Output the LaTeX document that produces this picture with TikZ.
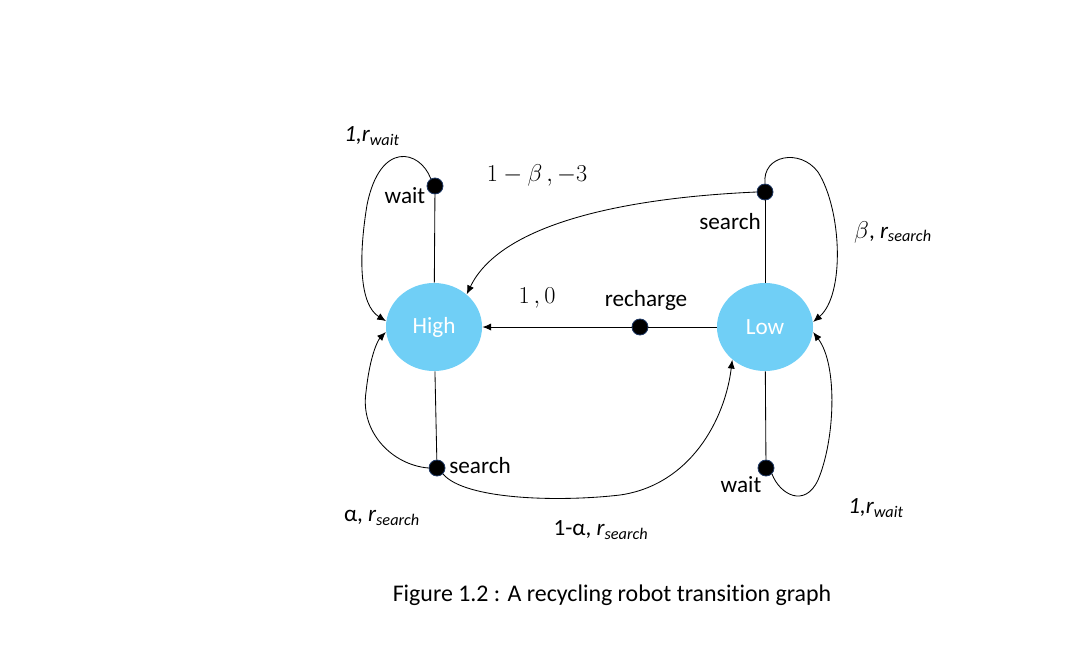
\documentclass[tikz,border=0pt]{standalone}
\usepackage{fontspec}
\setmainfont{Carlito}[Ligatures=NoCommon]
\usetikzlibrary{arrows.meta,shapes.geometric}
\definecolor{statefill}{RGB}{112,207,246}
\definecolor{dotrim}{RGB}{31,56,100}

\begin{document}
\begin{tikzpicture}[x=0.025cm, y=-0.025cm,
    font=\fontsize{16.5}{19}\selectfont, line width=0.6pt,
    state/.style ={ellipse, fill=statefill, text=white, minimum width=2.4cm, minimum height=2.2cm, inner sep=0pt},
    action/.style ={circle, fill=black, draw=dotrim, semithick, minimum size=0.4cm, inner sep=0pt},
    link/.style ={-{Latex[length=2.2mm,width=1.8mm]}}]
   \useasboundingbox (0,0) rectangle (1084,647);

   % states
   \node[state] (H) at (434,327) {High};
   \node[state] (L) at (765,327) {Low};

   % action dots
   \node[action] (w1) at (435,186) {};
   \node[action] (s1) at (765,192) {};
   \node[action] (rc) at (640,327) {};
   \node[action] (s2) at (437,468) {};
   \node[action] (w2) at (766,468) {};

   % straight edges
   \draw (H) -- (w1);
   \draw (H) -- (s2);
   \draw (L) -- (s1);
   \draw (L) -- (w2);
   \draw (L) -- (rc);
   \draw[link] (rc) -- (H);

   % curved transitions
   \draw[link] (w1.120) .. controls (420,150) and (380,140) .. (367,205)
                        .. controls (358,260) and (360,305) .. (H.173);
   \draw[link] (s1.west) .. controls (620,198) and (500,225) .. (H.45);
   \draw[link] (s1.north) .. controls (762,155) and (800,148) .. (818,172)
                          .. controls (842,210) and (845,295) .. (L.6);
   \draw[link] (s2.west) .. controls (392,465) and (360,432) .. (366,392)
                         .. controls (370,355) and (378,340) .. (H.186);
   \draw[link] (s2.south east) .. controls (465,500) and (560,502) .. (620,495)
                               .. controls (690,485) and (725,420) .. (L.225);
   \draw[link] (w2.south east) .. controls (780,495) and (805,508) .. (818,480)
                               .. controls (835,440) and (838,365) .. (L.-6);

   % labels
   \node (lw1) at (372,136) {\itshape 1,r\textsubscript{wait}};
   \node (lb1) at (537,175) {$1-\beta\,,-3$};
   \node (lb2) at (893,232) {$\beta$, \itshape r\textsubscript{search}};
   \node (l10) at (537,298) {$1\,,0$};
   \node (lrc) at (646,300) {recharge};
   \node (lww) at (405,196) {wait};
   \node (lss) at (730,222) {search};
   \node (lsb) at (480,466) {search};
   \node (lwb) at (741,485) {wait};
   \node (la1) at (382,518) {α, \itshape r\textsubscript{search}};
   \node (la2) at (601,530) {1-α, \itshape r\textsubscript{search}};
   \node (lw2) at (876,508) {\itshape 1,r\textsubscript{wait}};
   \node[font=\fontsize{17}{20}\selectfont] (cap) at (612,595) {Figure 1.2 : A recycling robot transition graph};
 \end{tikzpicture}
\end{document}
